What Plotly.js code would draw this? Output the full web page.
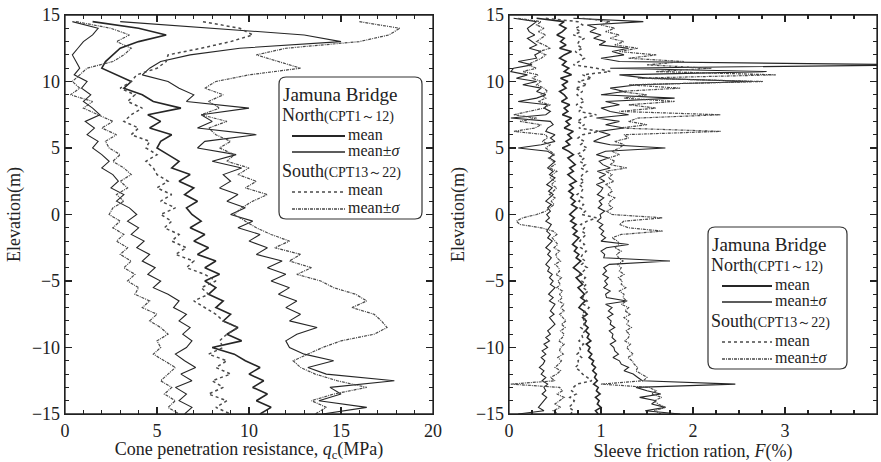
<!DOCTYPE html>
<html><head><meta charset="utf-8">
<script src="https://cdn.plot.ly/plotly-3.0.1.min.js"></script>
<style>html,body{margin:0;padding:0;background:#fff;}#chart{width:881px;height:462px;}</style>
</head><body><div id="chart"></div>
<script>
// ---------- Left panel: cone penetration resistance qc (MPa) ----------
const elevL = [14.5,14,13.5,13,12.5,12,11.5,11,10.5,10,
  9.5,9,8.5,8,7.5,7,6.5,6,5.5,5,
  4.5,4,3.5,3,2.5,2,1.5,1,0.5,0,
  -0.5,-1,-1.5,-2,-2.5,-3,-3.5,-4,-4.5,-5,
  -5.5,-6,-6.5,-7,-7.5,-8,-8.5,-9,-9.5,-10,
  -10.5,-11,-11.5,-12,-12.5,-13,-13.5,-14,-14.5,-15];
const qcNorthLo = [0.4,1.8,1.5,1.0,0.7,0.4,0.6,0.8,0.5,1.2, 0.9,1.4,1.0,1.5,1.9,1.1,1.6,1.2,1.8,1.5,
  2.0,2.4,2.0,2.6,2.9,2.5,3.2,2.8,3.5,3.9, 3.4,4.0,3.6,4.3,3.9,4.6,4.2,4.9,4.5,5.2,
  4.8,5.6,6.2,5.9,6.6,6.2,6.8,6.4,6.9,6.6, 6.0,6.5,7.1,6.3,6.9,6.0,6.6,6.2,6.9,6.5];
const qcNorthMean = [1.5,4.0,5.5,4.0,3.0,2.6,2.2,2.0,2.8,3.6, 3.2,4.2,4.8,6.3,4.5,5.2,4.6,5.8,5.2,5.0,
  5.6,6.2,5.8,6.8,6.2,7.0,6.5,7.2,6.6,6.9, 7.4,6.8,7.6,7.0,7.8,7.2,8.2,7.6,8.4,7.6,
  8.2,7.8,8.6,8.2,9.0,8.6,9.4,8.8,9.6,8.0, 9.2,9.8,10.6,10.0,10.8,10.2,11.0,10.4,11.2,10.6];
const qcNorthHi = [3.0,8.0,13.0,15.0,9.5,6.8,5.2,4.6,4.2,5.6, 6.2,7.0,6.6,10.0,7.4,8.0,7.2,10.4,7.6,7.2,
  9.3,8.0,9.6,8.6,9.0,8.4,9.4,8.8,9.8,9.0, 10.2,9.4,10.6,10.0,11.0,10.4,11.8,11.0,12.0,11.2,
  12.2,11.6,12.6,12.0,12.8,12.2,13.7,12.6,12.0,12.2, 13.0,14.6,13.2,14.2,17.9,14.4,15.0,13.8,16.4,14.0];
const qcSouthLo = [0.6,2.5,3.5,2.8,3.6,3.2,2.6,1.2,0.8,0.4, 0.8,0.3,1.5,1.0,1.8,2.6,2.0,2.8,2.2,2.4,
  3.0,2.6,3.2,3.6,3.0,3.4,2.8,3.2,2.6,2.4, 3.0,2.6,3.2,2.8,3.4,3.0,3.6,3.2,3.8,3.4,
  4.0,3.8,4.6,4.2,5.0,4.6,5.2,5.6,5.0,5.2, 4.8,5.4,6.0,5.6,5.2,5.8,5.4,6.0,5.6,6.2];
const qcSouthMean = [7.5,9.5,10.2,9.0,7.4,5.6,5.5,5.0,3.9,3.6, 3.0,3.8,3.4,4.2,3.6,3.2,4.0,3.6,4.6,4.4,
  5.0,4.4,4.8,5.0,5.6,5.0,5.8,5.2,6.0,5.2, 5.8,5.4,6.2,5.8,6.6,6.0,7.0,6.6,7.6,8.2,
  7.4,7.8,7.0,7.6,8.2,8.6,9.4,8.8,8.4,8.6, 7.8,8.8,8.2,9.0,8.0,8.6,7.8,8.8,8.2,9.0];
const qcSouthHi = [16.0,18.2,17.6,16.0,12.0,10.4,11.6,12.8,10.0,8.2, 7.6,8.6,7.8,8.4,7.4,8.8,7.8,8.2,9.0,8.4,
  9.2,8.8,10.0,9.4,10.4,9.8,11.0,10.2,9.6,9.2, 9.8,10.4,11.2,12.2,11.4,12.8,12.2,13.4,12.6,13.9,
  14.6,15.8,16.4,15.6,16.8,17.2,17.5,16.8,15.0,14.0, 13.2,12.4,12.8,13.6,14.8,16.4,14.6,13.4,14.2,13.6];

// ---------- Right panel: sleeve friction ratio F (%) ----------
const elevR = [14.75,14.5,14.25,14, 13.75,13.5,13.25,13, 12.75,12.5,12.25,12, 11.75,11.5,11.25,11,
  10.75,10.5,10.25,10, 9.75,9.5,9.25,9, 8.75,8.5,8.25,8, 7.75,7.5,7.25,7, 6.75,6.5,6.25,6,
  5.75,5.5,5.25,5, 4.75,4.5,4.25,4, 3.75,3.5,3.25,3, 2.75,2.5,2.25,2, 1.75,1.5,1.25,1, 0.75,0.5,0.25,0,
  -0.25,-0.5,-0.75,-1, -1.25,-1.5,-1.75,-2, -2.25,-2.5,-2.75,-3, -3.25,-3.5,-3.75,-4, -4.25,-4.5,-4.75,-5,
  -5.25,-5.5,-5.75,-6, -6.25,-6.5,-6.75,-7, -7.25,-7.5,-7.75,-8, -8.25,-8.5,-8.75,-9, -9.25,-9.5,-9.75,-10,
  -10.25,-10.5,-10.75,-11, -11.25,-11.5,-11.75,-12, -12.25,-12.5,-12.75,-13, -13.25,-13.5,-13.75,-14, -14.25,-14.5,-14.75,-15];
const fNorthLo = [0.05,0.30,0.25,0.20, 0.22,0.28,0.20,0.25, 0.30,0.22,0.35,0.28, 0.30,0.10,0.25,0.05,
  0.02,0.20,0.08,0.30, 0.15,0.35,0.30,0.40, 0.30,0.10,0.42,0.38, 0.45,0.40,0.02,0.45, 0.48,0.42,0.40,0.50,
  0.45,0.50,0.35,0.10, 0.42,0.48,0.44,0.50, 0.46,0.42,0.48,0.44, 0.50,0.45,0.41,0.47, 0.43,0.48,0.44,0.40, 0.46,0.42,0.45,0.41,
  0.44,0.40,0.46,0.43, 0.41,0.45,0.42,0.47, 0.44,0.40,0.45,0.42, 0.46,0.43,0.40,0.44, 0.42,0.47,0.44,0.48,
  0.45,0.50,0.46,0.43, 0.48,0.44,0.50,0.47, 0.45,0.49,0.44,0.47, 0.50,0.46,0.42,0.45, 0.40,0.44,0.38,0.42,
  0.36,0.40,0.35,0.39, 0.37,0.33,0.38,0.35, 0.40,0.36,0.42,0.38, 0.40,0.36,0.41,0.38, 0.35,0.32,0.38,0.10];
const fNorthMean = [0.30,0.60,0.55,0.62, 0.58,0.52,0.60,0.56, 0.62,0.55,0.68,0.60, 0.55,0.62,0.58,0.65,
  0.60,0.68,0.56,0.64, 0.58,0.62,0.55,0.60, 0.63,0.57,0.66,0.60, 0.64,0.58,0.68,0.62, 0.66,0.60,0.70,0.64,
  0.68,0.62,0.66,0.58, 0.65,0.70,0.64,0.68, 0.72,0.66,0.70,0.64, 0.68,0.73,0.66,0.70, 0.65,0.70,0.67,0.72, 0.68,0.74,0.70,0.66,
  0.71,0.67,0.73,0.69, 0.74,0.70,0.76,0.72, 0.69,0.74,0.71,0.76, 0.73,0.78,0.74,0.70, 0.75,0.79,0.73,0.77,
  0.80,0.75,0.78,0.82, 0.78,0.83,0.79,0.76, 0.81,0.85,0.80,0.84, 0.82,0.86,0.83,0.87, 0.85,0.89,0.84,0.88,
  0.86,0.90,0.87,0.92, 0.90,0.94,0.91,0.95, 0.93,0.96,0.92,0.97, 0.95,0.99,0.94,0.98, 0.96,1.00,0.94,0.97];
const fNorthHi = [0.70,1.46,0.85,0.95, 0.88,1.00,0.92,1.05, 0.98,1.30,1.12,1.25, 1.00,1.20,4.50,1.10,
  2.80,1.20,1.50,2.65, 1.40,1.10,1.25,1.00, 1.80,1.05,1.20,1.00, 1.10,1.30,0.95,1.20, 1.05,1.25,0.98,1.10,
  1.00,0.92,1.10,1.70, 1.05,0.95,1.08,0.98, 1.02,1.10,0.96,1.05, 0.98,1.04,0.95,1.02, 1.00,0.96,1.03,0.98, 1.01,0.97,1.04,0.99,
  1.00,0.96,1.02,0.98, 1.03,1.00,1.05,1.00, 1.30,1.06,1.00,1.04, 1.03,1.75,1.09,1.03, 1.06,1.02,1.08,1.04,
  1.07,1.03,1.10,1.05, 1.06,1.28,1.05,1.12, 1.08,1.13,1.07,1.11, 1.10,1.15,1.09,1.13, 1.12,1.16,1.10,1.14,
  1.15,1.19,1.13,1.20, 1.22,1.30,1.25,1.35, 1.40,1.45,2.46,1.38, 1.50,1.65,1.42,1.60, 1.55,1.70,1.48,1.86];
const fSouthLo = [0.10,0.35,0.30,0.38, 0.32,0.40,0.35,0.30, 0.38,0.45,0.32,0.40, 0.35,0.28,0.20,0.30,
  0.15,0.32,0.25,0.35, 0.30,0.38,0.42,0.35, 0.40,0.32,0.45,0.38, 0.20,0.05,0.30,0.12, 0.35,0.28,0.05,0.40,
  0.42,0.36,0.45,0.40, 0.45,0.50,0.43,0.48, 0.50,0.44,0.52,0.47, 0.45,0.50,0.46,0.52, 0.48,0.44,0.50,0.46, 0.49,0.45,0.40,0.30,
  0.15,0.08,0.12,0.35, 0.48,0.52,0.47,0.50, 0.53,0.49,0.55,0.51, 0.52,0.56,0.50,0.54, 0.55,0.51,0.57,0.53,
  0.56,0.52,0.58,0.55, 0.58,0.54,0.60,0.56, 0.60,0.55,0.58,0.62, 0.57,0.61,0.56,0.60, 0.58,0.54,0.60,0.56,
  0.55,0.59,0.53,0.57, 0.54,0.50,0.56,0.52, 0.45,0.50,0.02,0.55, 0.58,0.52,0.60,0.55, 0.50,0.56,0.48,0.53];
const fSouthMean = [0.40,0.75,0.80,0.72, 0.78,0.70,0.82,0.76, 0.74,0.80,0.72,0.78, 0.82,0.76,0.70,0.95,
  1.10,0.80,0.90,0.75, 0.85,0.72,0.80,0.74, 0.78,0.82,0.73,0.80, 0.76,0.95,0.80,0.74, 0.82,0.76,0.98,0.80,
  0.75,0.82,0.78,0.85, 0.80,0.74,0.82,0.77, 0.83,0.78,0.85,0.80, 0.77,0.82,0.76,0.81, 0.79,0.74,0.80,0.76, 0.81,0.77,0.83,0.79,
  0.95,0.85,0.78,0.82, 0.79,0.84,0.80,0.77, 0.82,0.78,0.84,0.80, 0.78,0.83,0.79,0.85, 0.81,0.77,0.83,0.79,
  0.84,0.80,0.86,0.82, 0.80,0.85,0.81,0.87, 0.83,0.79,0.84,0.80, 0.82,0.78,0.83,0.79, 0.80,0.76,0.81,0.77,
  0.78,0.74,0.79,0.75, 0.76,0.72,0.77,0.80, 0.85,0.90,0.74,0.70, 0.68,0.73,0.66,0.71, 0.69,0.65,0.70,0.67];
const fSouthHi = [0.80,1.10,1.00,1.15, 1.05,1.20,1.10,1.25, 1.15,1.40,1.20,1.60, 1.30,1.90,1.50,2.20,
  1.60,2.90,1.40,2.76, 1.30,1.86,1.20,1.50, 1.25,1.80,1.30,1.60, 1.20,2.30,1.40,1.30, 1.50,1.20,2.30,1.25,
  1.30,1.15,1.25,1.20, 1.12,1.20,1.08,1.15, 1.10,1.28,1.05,1.12, 1.08,1.14,1.05,1.10, 1.12,1.07,1.15,1.10, 1.08,1.13,1.06,1.12,
  1.67,1.25,1.20,1.30, 1.67,1.22,1.12,1.18, 1.20,1.15,1.22,1.17, 1.19,1.24,1.18,1.22, 1.20,1.25,1.19,1.23,
  1.22,1.27,1.20,1.25, 1.24,1.28,1.22,1.30, 1.26,1.32,1.25,1.30, 1.28,1.33,1.27,1.31, 1.30,1.26,1.32,1.28,
  1.31,1.35,1.29,1.34, 1.36,1.40,1.38,1.44, 1.50,1.46,1.00,1.52, 1.60,1.55,1.66,1.58, 1.62,1.70,1.58,1.65];

// ---------- Legend texts ----------
const legendTitle = 'Jamuna Bridge';
const northTitle = 'North<span style="font-size:14px">(CPT1～12)</span>';
const southTitle = 'South<span style="font-size:14px">(CPT13～22)</span>';
const meanLabel = 'mean';
const sdLabel = 'mean±<i>σ</i>';

const FONT = "'Liberation Serif', 'Times New Roman', serif";
const cSolid = '#262626', cDot = '#4a4a4a';
const stMean = {color:cSolid, width:1.6, dash:'solid'};
const stSd = {color:cSolid, width:1.1, dash:'solid'};
const stSMean = {color:cDot, width:1.5, dash:'dot'};
const stSSd = {color:cDot, width:1.2, dash:'3px,1px,1px,1px'};

function tr(x, y, ax, line, name){
  return {type:'scatter', mode:'lines', x:x, y:y, xaxis:ax[0], yaxis:ax[1], line:line,
    name:name, showlegend:false, hoverinfo:'skip'};
}
const L = ['x','y'], R = ['x2','y2'];
const data = [
  tr(qcNorthMean, elevL, L, stMean, meanLabel), tr(qcNorthLo, elevL, L, stSd, sdLabel), tr(qcNorthHi, elevL, L, stSd, sdLabel),
  tr(qcSouthMean, elevL, L, stSMean, meanLabel), tr(qcSouthLo, elevL, L, stSSd, sdLabel), tr(qcSouthHi, elevL, L, stSSd, sdLabel),
  tr(fNorthMean, elevR, R, stMean, meanLabel), tr(fNorthLo, elevR, R, stSd, sdLabel), tr(fNorthHi, elevR, R, stSd, sdLabel),
  tr(fSouthMean, elevR, R, stSMean, meanLabel), tr(fSouthLo, elevR, R, stSSd, sdLabel), tr(fSouthHi, elevR, R, stSSd, sdLabel)
];

// ---------- Layout ----------
const W = 881, H = 462;
const px = v => v / W, py = v => 1 - v / H;
const axBase = {showgrid:false, zeroline:false, showline:true, linecolor:'#222', linewidth:1.3, mirror:'ticks',
  ticks:'inside', ticklen:7, tickwidth:1.3, tickcolor:'#222',
  tickfont:{family:FONT, size:18, color:'#222'}};
const minorY = {ticks:'inside', ticklen:4, tickwidth:1.1, tickcolor:'#222', dtick:1};

const shapes = [], annotations = [];
[['x','y'],['x2','y2']].forEach(a => shapes.push({type:'rect', xref:a[0]+' domain', yref:a[1]+' domain',
  x0:0, x1:1, y0:0, y1:1, line:{color:'#222', width:1.3}, layer:'above'}));

function roundRect(x0, y0, x1, y1, r){
  const X = px, Y = py;
  return `M${X(x0+r)},${Y(y0)} L${X(x1-r)},${Y(y0)} Q${X(x1)},${Y(y0)} ${X(x1)},${Y(y0+r)} ` +
    `L${X(x1)},${Y(y1-r)} Q${X(x1)},${Y(y1)} ${X(x1-r)},${Y(y1)} L${X(x0+r)},${Y(y1)} ` +
    `Q${X(x0)},${Y(y1)} ${X(x0)},${Y(y1-r)} L${X(x0)},${Y(y0+r)} Q${X(x0)},${Y(y0)} ${X(x0+r)},${Y(y0)} Z`;
}
function addLegend(bx0, by0, bx1, by1, rows){
  shapes.push({type:'path', xref:'paper', yref:'paper', path:roundRect(bx0, by0, bx1, by1, 7),
    fillcolor:'#fff', line:{color:'#333', width:1.2}, layer:'above'});
  const txt = (x, y, s, size) => annotations.push({xref:'paper', yref:'paper', x:px(x), y:py(y),
    xanchor:'left', yanchor:'middle', text:s, showarrow:false, borderpad:0,
    font:{family:FONT, size:size, color:'#222'}});
  txt(bx0+3, by0+rows.title, legendTitle, 19);
  txt(bx0+2, by0+rows.north, northTitle, 18);
  txt(bx0+2, by0+rows.south, southTitle, 18);
  const items = [[rows.nm, stMean, meanLabel],[rows.ns, stSd, sdLabel],[rows.sm, stSMean, meanLabel],[rows.ss, stSSd, sdLabel]];
  items.forEach(it => {
    const y = by0 + it[0];
    shapes.push({type:'line', xref:'paper', yref:'paper', x0:px(bx0+rows.l0), x1:px(bx0+rows.l1), y0:py(y+2), y1:py(y+2),
      line:Object.assign({}, it[1], {width:it[1].width+0.2}), layer:'above'});
    txt(bx0+rows.l1+2, y, it[2], 16);
  });
}
const rowsL = {title:17, north:38, nm:57, ns:73, south:94, sm:113, ss:130, l0:13, l1:66};
const rowsR = {title:17, north:38, nm:57, ns:73, south:94, sm:113, ss:130, l0:14, l1:64};
addLegend(279, 77, 422, 219, rowsL);
addLegend(708, 227, 847, 369, rowsR);

const layout = {
  width:W, height:H, margin:{l:0, r:0, t:0, b:0}, paper_bgcolor:'#fff', plot_bgcolor:'#fff',
  font:{family:FONT, color:'#222'}, showlegend:false, shapes:shapes, annotations:annotations,
  xaxis:Object.assign({}, axBase, {anchor:'y', domain:[px(65),px(433)], range:[0,20], dtick:5, tick0:0,
    minor:{ticks:'inside', ticklen:4, tickwidth:1.1, tickcolor:'#222', dtick:1},
    title:{text:'Cone penetration resistance, <i>q</i><sub>c</sub>(MPa)', font:{family:FONT, size:18}, standoff:3}}),
  yaxis:Object.assign({}, axBase, {anchor:'x', domain:[1-414/H, 1-15/H], range:[-15,15], dtick:5, tick0:0, minor:minorY,
    title:{text:'Elevation(m)', font:{family:FONT, size:18}, standoff:6}}),
  xaxis2:Object.assign({}, axBase, {anchor:'y2', domain:[px(509),px(877)], range:[0,4], dtick:1, tick0:0,
    minor:{ticks:'inside', ticklen:4, tickwidth:1.1, tickcolor:'#222', dtick:0.25},
    title:{text:'Sleeve friction ration, <i>F</i>(%)', font:{family:FONT, size:18}, standoff:3}}),
  yaxis2:Object.assign({}, axBase, {anchor:'x2', domain:[1-414/H, 1-15/H], range:[-15,15], dtick:5, tick0:0, minor:minorY,
    title:{text:'Elevation(m)', font:{family:FONT, size:18}, standoff:6}})
};

Plotly.newPlot('chart', data, layout, {staticPlot:true, displayModeBar:false});
</script></body></html>
